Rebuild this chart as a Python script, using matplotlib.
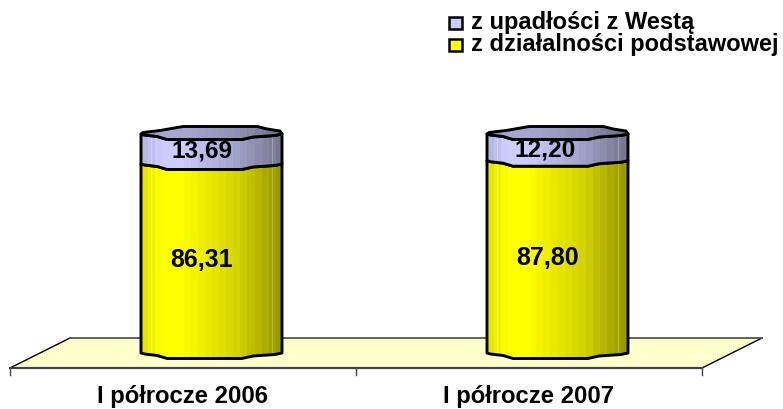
import numpy as np
import matplotlib
matplotlib.use("Agg")
import matplotlib.pyplot as plt
from matplotlib.patches import Polygon, Rectangle
from matplotlib.colors import LinearSegmentedColormap

categories = ["I półrocze 2006", "I półrocze 2007"]
base_values = [86.31, 87.80]
top_values = [13.69, 12.20]
base_label = "z działalności podstawowej"
top_label = "z upadłości z Westą"
base_text = ["86,31", "87,80"]
top_text = ["13,69", "12,20"]

W, H = 783, 409
CAT_PX = 346.0     # pixels per category
VAL_PX = 2.19      # pixels per value unit
X0_PX, Y0_PX = 10, 353  # left tick, zero level of the bars
FLOOR = 15 / VAL_PX
DEPTH_X = 60 / CAT_PX
DEPTH_Y = 30 / VAL_PX
BAR_W = 141 / CAT_PX
FS = 17.2

plt.rcParams["font.family"] = ["Liberation Sans", "DejaVu Sans"]

fig = plt.figure(figsize=(W / 100, H / 100), dpi=100)
ax = fig.add_axes([0, 0, 1, 1])
ax.axis("off")

# wobbly ellipse edges of the faceted cylinder, offsets in value units
u_front = [-1, -.95, -.77, -.63, .43, .59, .9, 1]
d_front = np.array([0, 1, 2.5, 5.5, 5.5, 3, 1.5, 0]) / VAL_PX
u_back = [-1, -.97, -.73, -.4, .65, .79, .97, 1]
d_back = np.array([0, 1.5, 3.5, 7.5, 7.5, 5, 3, 0]) / VAL_PX

yellow = LinearSegmentedColormap.from_list("y", ["#e6e600", "#ffff00", "#ffff00", "#d2d200", "#999900"])
purple = LinearSegmentedColormap.from_list("p", ["#b8b8e6", "#ccccff", "#ccccff", "#a0a0c8", "#77778f"])
cap = LinearSegmentedColormap.from_list("c", ["#9090b8", "#a6a6d0", "#a6a6d0", "#9090b4", "#70708c"])
STEPS = [0, .12, .28, .7, 1]


def shade(cmap):
    vals = np.interp(np.linspace(0, 1, 20), STEPS, [0, .25, .5, .75, 1])
    return cmap(vals)[np.newaxis, :, :]


def front(c, y):
    xs = c + np.array(u_front) * BAR_W / 2
    return list(zip(xs, y - d_front))


def back(c, y):
    xs = c + np.array(u_back) * BAR_W / 2
    return list(zip(xs, y + d_back))


def section(c, y0, y1, cmap, z):
    pts = front(c, y0) + front(c, y1)[::-1]
    poly = Polygon(pts, closed=True, fc="none", ec="black", lw=2.1, zorder=z + 1, joinstyle="round")
    ax.add_patch(poly)
    im = ax.imshow(shade(cmap), extent=[c - BAR_W / 2, c + BAR_W / 2, y0 - 10, y1 + 10],
                   aspect="auto", interpolation="nearest", zorder=z)
    im.set_clip_path(poly)
    # thin highlights near the cylinder sides
    for f in (.07, .93):
        xx = c + (f - .5) * BAR_W
        ax.plot([xx, xx], [y0 - 2 / VAL_PX, y1 - 2 / VAL_PX], color="white", lw=.6, alpha=.3, zorder=z + .5)


# floor
n = len(categories)
floor_pts = [(0, -FLOOR), (DEPTH_X, -FLOOR + DEPTH_Y), (n + DEPTH_X, -FLOOR + DEPTH_Y), (n, -FLOOR)]
ax.add_patch(Polygon(floor_pts, closed=True, fc="#ffffcc", ec="none", zorder=1))
ax.plot([0, DEPTH_X], [-FLOOR, -FLOOR + DEPTH_Y], color="black", lw=1, zorder=2)
ax.plot([n, n + DEPTH_X], [-FLOOR, -FLOOR + DEPTH_Y], color="black", lw=1, zorder=2)
ax.plot([DEPTH_X, n + DEPTH_X], [-FLOOR + DEPTH_Y] * 2, color="#555555", lw=1.3, zorder=2)
ax.plot([0, n], [-FLOOR, -FLOOR], color="#444444", lw=1.6, zorder=2)
for i in range(n + 1):
    ax.plot([i, i], [-FLOOR, -FLOOR - 7 / VAL_PX], color="#444444", lw=1, zorder=2)

for i, name in enumerate(categories):
    c = i + 0.5 + DEPTH_X / 2 - 1.5 / CAT_PX
    b, t = base_values[i], top_values[i]
    section(c, 0, b, yellow, 3)
    section(c, b, b + t, purple, 6)
    pts = front(c, b + t) + back(c, b + t)[::-1]
    lid = Polygon(pts, closed=True, fc="none", ec="black", lw=2.1, zorder=10, joinstyle="round")
    ax.add_patch(lid)
    im = ax.imshow(shade(cap), extent=[c - BAR_W / 2, c + BAR_W / 2, b + t - 20, b + t + 20],
                   aspect="auto", interpolation="nearest", zorder=9)
    im.set_clip_path(lid)
    ax.text(c - 10 / CAT_PX, b / 2 - 0.6, base_text[i], ha="center", va="center", fontsize=18, fontweight="bold", zorder=12)
    ax.text(c - (10 + 2.5 * i) / CAT_PX, b + t / 2 - 1, top_text[i], ha="center", va="center", fontsize=17.6, fontweight="bold", zorder=12)
    ax.text(i + 0.5 - 1 / CAT_PX, -FLOOR - 28 / VAL_PX, name, ha="center", va="center", fontsize=FS, fontweight="bold", zorder=12)

ax.set_xlim(-X0_PX / CAT_PX, (W - X0_PX) / CAT_PX)
ax.set_ylim(-(H - Y0_PX) / VAL_PX, Y0_PX / VAL_PX)

# legend
for label, col, py in ((top_label, "#ccccff", 23), (base_label, "#ffff00", 45)):
    ax.add_patch(Rectangle((449 / W, 1 - (py + 6) / H), 13 / W, 12 / H, transform=ax.transAxes,
                           fc=col, ec="black", lw=1.8, zorder=12))
    ax.text(471 / W, 1 - py / H, label, transform=ax.transAxes, ha="left", va="center",
            fontsize=FS - 0.2, fontweight="bold", zorder=12)

fig.savefig("out.png", dpi=100)
